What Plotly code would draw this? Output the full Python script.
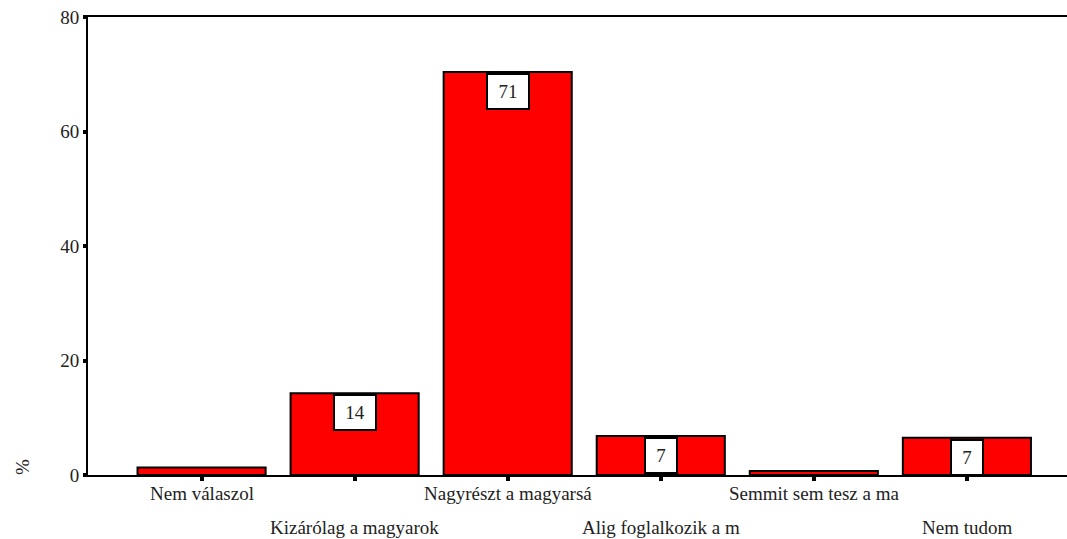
import plotly.graph_objects as go

categories = ["Nem válaszol", "Kizárólag a magyarok", "Nagyrészt a magyarsá",
              "Alig foglalkozik a m", "Semmit sem tesz a ma", "Nem tudom"]
values = [1.3, 14.3, 70.4, 6.8, 0.7, 6.5]
labels = ["", "14", "71", "7", "", "7"]
y_ticks = [0, 20, 40, 60, 80]

FONT = "Liberation Serif"
xs = list(range(len(categories)))

W, H = 1067, 539
L, R, T, B = 88, 0, 17, 64

fig = go.Figure()
fig.add_trace(go.Bar(
    x=xs, y=values, width=0.837,
    marker=dict(color="#ff0000", line=dict(color="black", width=2)),
    hoverinfo="skip",
))

annotations = []
for i, (v, lab) in enumerate(zip(values, labels)):
    if lab:
        annotations.append(dict(
            x=i, y=v, xref="x", yref="y", yanchor="top", xanchor="center",
            text=lab, showarrow=False, yshift=-1,
            width=38 if len(lab) > 1 else 28, height=31,
            bgcolor="white", bordercolor="black", borderwidth=2, borderpad=1,
            font=dict(family=FONT, size=19, color="#222"),
        ))
# category labels, alternating rows
for i, c in enumerate(categories):
    annotations.append(dict(
        x=i, y=0, xref="x", yref="paper", yanchor="top", xanchor="center",
        text=c, showarrow=False, yshift=-6 if i % 2 == 0 else -40,
        font=dict(family=FONT, size=19, color="#222"),
    ))
# y-axis title "%" placed low, as in the original
annotations.append(dict(
    x=(22 - L) / (W - L - R),
    y=((H - B) - 467) / (H - T - B),
    xref="paper", yref="paper", text="%", showarrow=False,
    textangle=-90, xanchor="center", yanchor="middle",
    font=dict(family=FONT, size=19, color="#222"),
))

fig.update_layout(
    width=W, height=H,
    margin=dict(l=L, r=R, t=T, b=B),
    paper_bgcolor="white", plot_bgcolor="white",
    showlegend=False,
    annotations=annotations,
    xaxis=dict(
        range=[-0.742, 5.654], tickvals=xs, ticktext=[""] * len(xs),
        showgrid=False, zeroline=False,
        showline=True, linecolor="black", linewidth=2, mirror=True,
        ticks="outside", ticklen=4, tickwidth=4, tickcolor="black",
    ),
    yaxis=dict(
        range=[0, 80], tickvals=y_ticks,
        showgrid=False, zeroline=False,
        showline=True, linecolor="black", linewidth=2,
        ticks="outside", ticklen=3, tickwidth=4, tickcolor="black",
        ticklabeloverflow="allow",
        tickfont=dict(family=FONT, size=19, color="#222"),
    ),
)

fig.write_html(
    "out.html",
    config={"displayModeBar": False},
    post_script="document.body.style.margin='0';document.body.style.overflow='hidden';",
)
